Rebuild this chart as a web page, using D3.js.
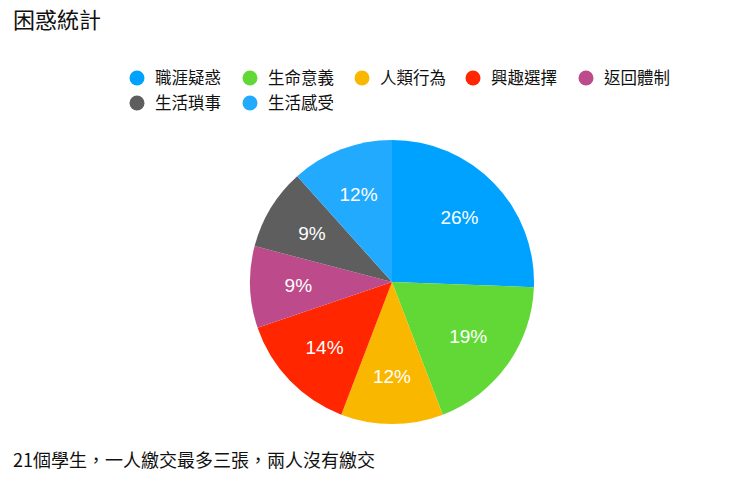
<!DOCTYPE html>
<html>
<head>
<meta charset="utf-8">
<script src="https://cdn.jsdelivr.net/npm/d3@7"></script>
<style>
  body { margin: 0; background: #fff; }
  text { font-family: "Noto Sans CJK TC", "Liberation Sans", sans-serif; }
</style>
</head>
<body>
<svg></svg>
<script>
var width = 740;
var height = 484;

var categories = ["職涯疑惑", "生命意義", "人類行為", "興趣選擇", "返回體制", "生活瑣事", "生活感受"];
var counts = [11, 8, 5, 6, 4, 4, 5];
var colors = ["#00a2ff", "#61d836", "#fab700", "#ff2600", "#bd4b8c", "#5e5e5e", "#22aaff"];
var legendRows = [[0, 1, 2, 3, 4], [5, 6]];

var data = categories.map((c, i) => ({name: c, value: counts[i], color: colors[i]}));
var total = d3.sum(counts);

var cx = 392, cy = 282, radius = 142;

var svg = d3.select("svg")
    .attr("width", width)
    .attr("height", height);

// title
svg.append("text")
    .attr("x", 13)
    .attr("y", 28)
    .attr("font-size", 22)
    .attr("fill", "#111")
    .text("困惑統計");

// legend
var legendX = [137, 250, 362, 473, 586];
legendRows.forEach(function(row, r){
    var g = svg.append("g")
        .selectAll("g")
        .data(row)
        .enter()
        .append("g")
        .attr("transform", (d, i) => `translate(${legendX[i]}, ${78 + r * 25})`);
    g.append("circle")
        .attr("r", 7.5)
        .attr("fill", d => colors[d]);
    g.append("text")
        .attr("x", 18)
        .attr("dy", "0.35em")
        .attr("font-size", 16.5)
        .attr("fill", "#111")
        .text(d => categories[d]);
});

// pie
var pie = d3.pie()
    .value(d => d.value)
    .sort(null);
var arc = d3.arc()
    .innerRadius(0)
    .outerRadius(radius);
var labelArc = d3.arc()
    .innerRadius(radius * 0.66)
    .outerRadius(radius * 0.66);

var pieG = svg.append("g")
    .attr("transform", `translate(${cx}, ${cy})`);

pieG.selectAll("path")
    .data(pie(data))
    .enter()
    .append("path")
    .attr("d", arc)
    .attr("fill", d => d.data.color);

pieG.selectAll("text")
    .data(pie(data))
    .enter()
    .append("text")
    .attr("transform", d => `translate(${labelArc.centroid(d)})`)
    .attr("text-anchor", "middle")
    .attr("dy", "0.36em")
    .attr("font-size", 19)
    .style("font-family", "'Liberation Sans', Arial, sans-serif")
    .attr("fill", "#fff")
    .text(d => Math.round(d.data.value / total * 100) + "%");

// footnote
svg.append("text")
    .attr("x", 13)
    .attr("y", 467)
    .attr("font-size", 18)
    .attr("fill", "#111")
    .text("21個學生，一人繳交最多三張，兩人沒有繳交");
</script>
</body>
</html>
